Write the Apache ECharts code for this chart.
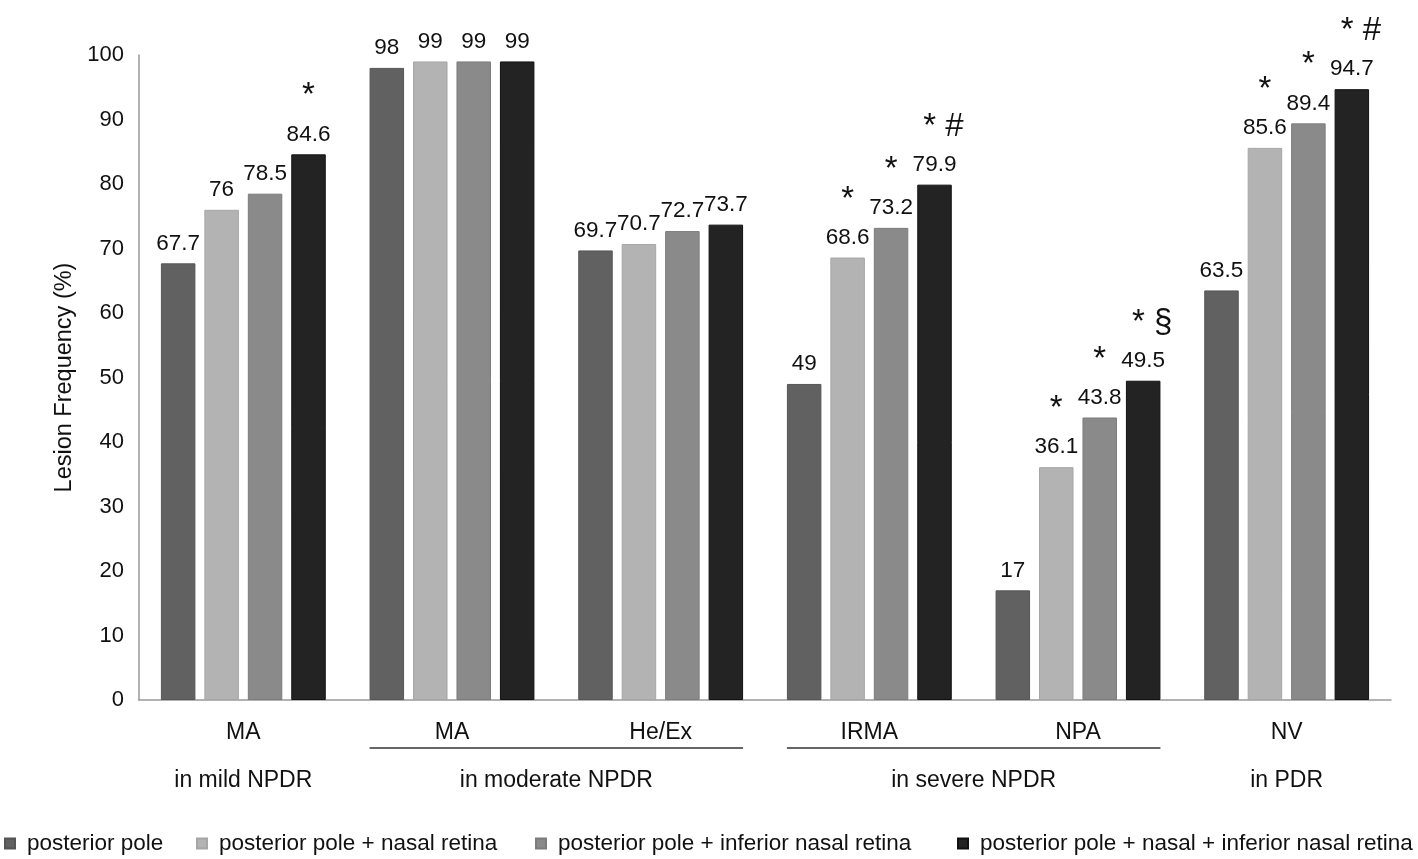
<!DOCTYPE html>
<html><head><meta charset="utf-8">
<script src="https://cdn.jsdelivr.net/npm/echarts@6/dist/echarts.min.js"></script>
<style>html,body{margin:0;padding:0;background:#fff}#c{width:1418px;height:859px}</style>
</head><body><div id="c"></div>
<script>
const categories = ['MA', 'MA', 'He/Ex', 'IRMA', 'NPA', 'NV'];
const groupLabels = ['in mild NPDR', 'in moderate NPDR', 'in severe NPDR', 'in PDR'];
const groupSpans = [[0, 0], [1, 2], [3, 4], [5, 5]];
const seriesNames = ['posterior pole', 'posterior pole + nasal retina', 'posterior pole + inferior nasal retina', 'posterior pole + nasal + inferior nasal retina'];
const posteriorPole = [67.7, 98, 69.7, 49, 17, 63.5];
const plusNasal = [76, 99, 70.7, 68.6, 36.1, 85.6];
const plusInferiorNasal = [78.5, 99, 72.7, 73.2, 43.8, 89.4];
const plusBoth = [84.6, 99, 73.7, 79.9, 49.5, 94.7];
const marksPole = ['', '', '', '', '', ''];
const marksNasal = ['', '', '', '*', '*', '*'];
const marksInferior = ['', '', '', '*', '*', '*'];
const marksBoth = ['*', '', '', '* #', '* §', '* #'];
const yTicks = [0, 10, 20, 30, 40, 50, 60, 70, 80, 90, 100];

const FONT = "'Liberation Sans', Arial, sans-serif";
const chart = echarts.init(document.getElementById('c'), null, {renderer: 'canvas'});

function mkSeries(name, data, marks, color, border) {
  return {
    name, type: 'bar', data,
    barGap: '26%', barCategoryGap: '21%',
    itemStyle: {color, borderColor: border, borderWidth: 1},
    label: {
      show: true, position: 'top', distance: 7,
      fontFamily: FONT, fontSize: 22.5, color: '#111',
      formatter: p => {
        const m = marks[p.dataIndex];
        if (!m) return '{v|' + p.value + '}';
        return '{' + (m.length > 1 ? 'm2' : 'm') + '|' + m + '}\n{v|' + p.value + '}';
      },
      rich: {
        v: {fontSize: 22.5, lineHeight: 26, fontFamily: FONT, color: '#111'},
        m: {fontSize: 33, lineHeight: 50, fontFamily: FONT, color: '#111'},
        m2: {fontSize: 33, lineHeight: 50, fontFamily: FONT, color: '#111', padding: [0, 0, 0, 18]}
      }
    }
  };
}

const legendLeft = [4, 196, 535, 957];
const legends = seriesNames.map((n, i) => ({
  data: [n], left: legendLeft[i], top: 832, padding: 0, icon: 'rect', itemWidth: 10, itemHeight: 10,
  textStyle: {fontFamily: FONT, fontSize: 22.5, color: '#111', padding: [0, 0, 0, 7]}
}));

chart.setOption({
  animation: false,
  backgroundColor: '#fff',
  grid: {left: 139, right: 27, top: 55, bottom: 159, containLabel: false},
  legend: legends,
  xAxis: {
    type: 'category', data: categories,
    axisLine: {lineStyle: {color: '#999999', width: 1.5}},
    axisTick: {show: false},
    axisLabel: {fontFamily: FONT, fontSize: 23, color: '#111', margin: 21}
  },
  yAxis: {
    type: 'value', min: 0, max: 100, interval: 10,
    name: 'Lesion Frequency (%)', nameLocation: 'middle', nameGap: 62,
    nameTextStyle: {fontFamily: FONT, fontSize: 23.5, color: '#111'},
    axisLine: {show: true, lineStyle: {color: '#999999', width: 1.5}},
    axisTick: {show: false},
    splitLine: {show: false},
    axisLabel: {fontFamily: FONT, fontSize: 22, color: '#111', margin: 15,
      formatter: v => yTicks.includes(v) ? String(v) : ''}
  },
  series: [
    mkSeries(seriesNames[0], posteriorPole, marksPole, '#616161', '#555555'),
    mkSeries(seriesNames[1], plusNasal, marksNasal, '#b3b3b3', '#a6a6a6'),
    mkSeries(seriesNames[2], plusInferiorNasal, marksInferior, '#8a8a8a', '#7c7c7c'),
    mkSeries(seriesNames[3], plusBoth, marksBoth, '#232323', '#111111')
  ]
});

(function addGroups() {
  const px = i => chart.convertToPixel({xAxisIndex: 0}, i);
  const y0 = chart.convertToPixel({yAxisIndex: 0}, 0);
  const band = px(1) - px(0);
  const half = band * (1 - 0.21) / 2;
  const els = [];
  groupSpans.forEach((s, gi) => {
    const cx = (px(s[0]) + px(s[1])) / 2;
    els.push({type: 'text', silent: true, style: {
      text: groupLabels[gi], x: cx, y: y0 + 81,
      align: 'center', verticalAlign: 'middle', textAlign: 'center', textVerticalAlign: 'middle',
      font: '23px ' + FONT, fill: '#111'}});
    if (s[1] > s[0]) {
      els.push({type: 'line', silent: true, shape: {x1: px(s[0]) - half, y1: y0 + 48, x2: px(s[1]) + half, y2: y0 + 48},
        style: {stroke: '#333', lineWidth: 1.5}});
    }
  });
  chart.setOption({graphic: {elements: els}});
})();
</script>
</body></html>
